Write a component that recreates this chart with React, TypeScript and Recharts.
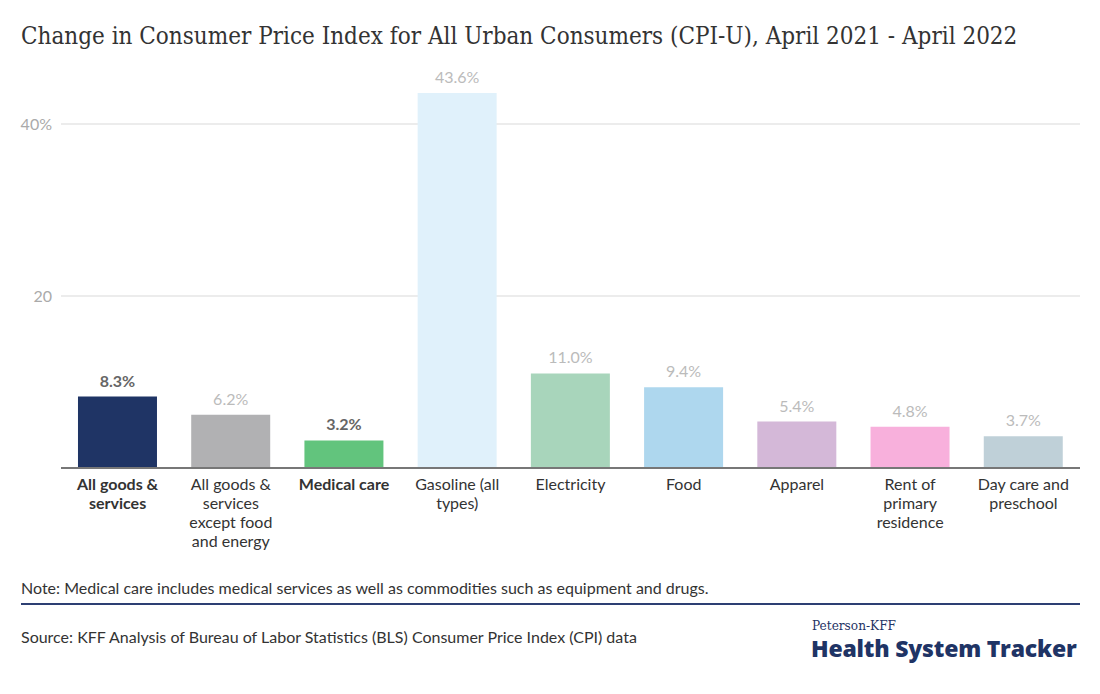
import React from "react";
import { BarChart, Bar, XAxis, YAxis, CartesianGrid, Cell, LabelList } from "recharts";

const categories = [
  "All goods & services",
  "All goods & services except food and energy",
  "Medical care",
  "Gasoline (all types)",
  "Electricity",
  "Food",
  "Apparel",
  "Rent of primary residence",
  "Day care and preschool",
];
const categoryLines = [
  ["All goods &", "services"],
  ["All goods &", "services", "except food", "and energy"],
  ["Medical care"],
  ["Gasoline (all", "types)"],
  ["Electricity"],
  ["Food"],
  ["Apparel"],
  ["Rent of", "primary", "residence"],
  ["Day care and", "preschool"],
];
const values = [8.3, 6.2, 3.2, 43.6, 11.0, 9.4, 5.4, 4.8, 3.7];
const colors = ["#1f3465", "#b1b1b3", "#62c47d", "#e0f1fb", "#a8d5bb", "#aed7ee", "#d4b8d8", "#f8b0dc", "#bfd0d8"];
const highlighted = [true, false, true, false, false, false, false, false, false];
const yTicks = [20, 40];

const data = categories.map((c, i) => ({ name: c, value: values[i], idx: i }));

const FONT = "Lato, 'Noto Sans', sans-serif";

const XTick = (props: any) => {
  const { x, y, payload } = props;
  const i = payload.index;
  const lines = categoryLines[i] || [String(payload.value)];
  return (
    <text x={x} y={y + 14} textAnchor="middle" fontFamily={FONT} fontSize={16}
      fill="#333" fontWeight={highlighted[i] ? 700 : 400}>
      {lines.map((l, k) => (
        <tspan key={k} x={x} dy={k === 0 ? 0 : 19}>{l}</tspan>
      ))}
    </text>
  );
};

const YTick = (props: any) => {
  const { x, y, payload } = props;
  const label = payload.value === 40 ? "40%" : String(payload.value);
  return (
    <text x={x + 5} y={y + 6} textAnchor="end" fontFamily={FONT} fontSize={16} fill="#aaa">
      {label}
    </text>
  );
};

const ValueLabel = (props: any) => {
  const { x, y, width, value, index } = props;
  const hl = highlighted[index];
  return (
    <text x={x + width / 2} y={y - 10} textAnchor="middle" fontFamily={FONT} fontSize={16}
      fontWeight={hl ? 700 : 400} fill={hl ? "#666" : "#bbb"}>
      {Number(value).toFixed(1) + "%"}
    </text>
  );
};

export default function App() {
  return (
    <div style={{ position: "absolute", left: 0, top: 0, width: 1100, height: 694, background: "#fff" }}>
      <div style={{ position: "absolute", left: 21, top: 22, fontFamily: "'DejaVu Serif Condensed', 'DejaVu Serif', serif", fontSize: 24, color: "#333", whiteSpace: "nowrap" }}>
        Change in Consumer Price Index for All Urban Consumers (CPI-U), April 2021 - April 2022
      </div>
      <div style={{ position: "absolute", left: 0, top: 0 }}>
        <BarChart width={1100} height={570} data={data}
          margin={{ top: 81, right: 20, bottom: 0, left: 0 }} barCategoryGap="15%">
          <CartesianGrid vertical={false} stroke="#e6e6e6" strokeWidth={1.5}
            horizontalValues={yTicks} />
          <YAxis domain={[0, 45]} ticks={yTicks} axisLine={false} tickLine={false} width={61}
            tick={<YTick />} tickMargin={8} />
          <XAxis dataKey="name" height={102} interval={0} tickLine={false}
            axisLine={{ stroke: "#777", strokeWidth: 2 }} tick={<XTick />} />
          <Bar dataKey="value" isAnimationActive={false} maxBarSize={79}>
            {data.map((d, i) => (
              <Cell key={i} fill={colors[i]} />
            ))}
            <LabelList dataKey="value" content={<ValueLabel />} />
          </Bar>
        </BarChart>
      </div>
      <div style={{ position: "absolute", left: 21, top: 578, fontFamily: FONT, fontSize: 16, color: "#333" }}>
        Note: Medical care includes medical services as well as commodities such as equipment and drugs.
      </div>
      <div style={{ position: "absolute", left: 21, top: 603, width: 1059, height: 2, background: "#2d3f73" }} />
      <div style={{ position: "absolute", left: 21, top: 627, fontFamily: FONT, fontSize: 16, color: "#333" }}>
        Source: KFF Analysis of Bureau of Labor Statistics (BLS) Consumer Price Index (CPI) data
      </div>
      <div style={{ position: "absolute", left: 812, top: 617, fontFamily: "'DejaVu Serif Condensed', serif", fontSize: 13.5, color: "#1f3465" }}>
        Peterson-KFF
      </div>
      <div style={{ position: "absolute", left: 811, top: 632, fontFamily: "'Open Sans', sans-serif", fontWeight: 800, fontSize: 23, color: "#1f3465", letterSpacing: -0.2, whiteSpace: "nowrap" }}>
        Health System Tracker
      </div>
    </div>
  );
}
